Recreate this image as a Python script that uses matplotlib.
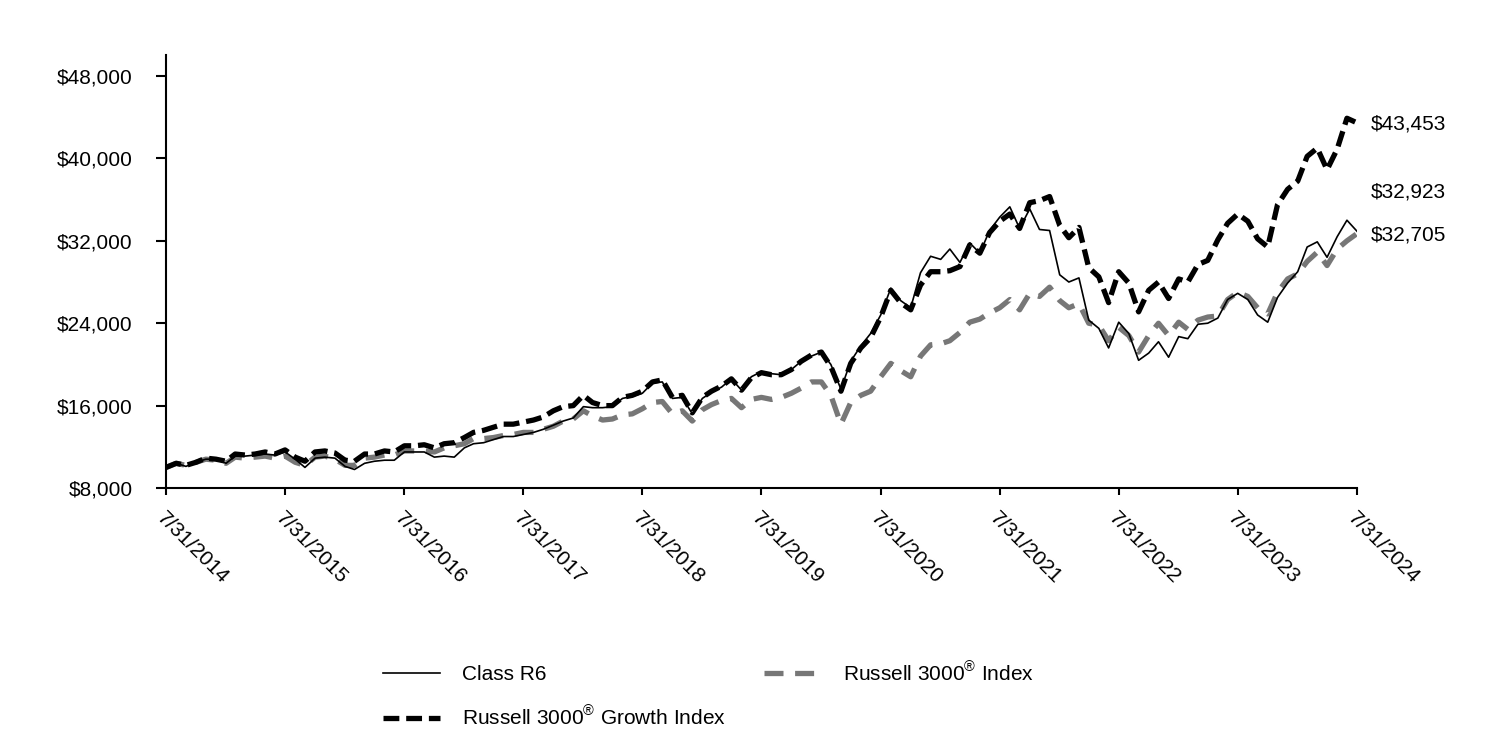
import matplotlib
matplotlib.use("Agg")
import matplotlib.pyplot as plt
import pandas as pd

plt.rcParams['font.family'] = ['Liberation Sans', 'DejaVu Sans']
plt.rcParams['mathtext.fontset'] = 'custom'
plt.rcParams['mathtext.rm'] = 'Liberation Sans'

# ---------------- data ----------------
start_date = '2014-07-31'
end_date = '2024-07-31'

tick_labels = ['7/31/2014', '7/31/2015', '7/31/2016', '7/31/2017', '7/31/2018',
               '7/31/2019', '7/31/2020', '7/31/2021', '7/31/2022', '7/31/2023',
               '7/31/2024']

y_ticks = [8000, 16000, 24000, 32000, 40000, 48000]

class_r6 = [
    10000, 10400, 10100, 10500, 10800, 10800, 10400, 11100, 11100, 11200, 11300, 11200,
    11500, 10800, 10000, 10900, 11000, 10900, 10100, 9800, 10400, 10600, 10700, 10700,
    11500, 11500, 11500, 11000, 11100, 11000, 11900, 12300, 12400, 12700, 13000, 13000,
    13200, 13400, 13700, 14100, 14500, 14800, 15900, 15800, 15800, 15900, 16700, 16900,
    17200, 18200, 18300, 16700, 16800, 15200, 16700, 17300, 17800, 18600, 17500, 18800,
    19300, 19100, 19000, 19500, 20300, 20800, 21200, 20000, 17600, 20300, 21800, 23000,
    24800, 27400, 26200, 25500, 28900, 30500, 30200, 31200, 29900, 31800, 30800, 33000,
    34300, 35300, 33200, 35100, 33100, 33000, 28700, 28000, 28400, 24300, 23500, 21600,
    24100, 23000, 20400, 21100, 22200, 20700, 22700, 22500, 23900, 24000, 24500, 26300,
    26900, 26300, 24800, 24100, 26500, 27900, 29000, 31400, 31900, 30400, 32400, 34000,
    32923]

growth_idx = [
    10000, 10400, 10200, 10500, 10900, 10800, 10600, 11300, 11200, 11300, 11500, 11300,
    11700, 11000, 10600, 11500, 11600, 11400, 10700, 10600, 11300, 11300, 11600, 11500,
    12100, 12100, 12200, 11900, 12300, 12400, 12900, 13400, 13600, 13900, 14200, 14200,
    14400, 14600, 14900, 15500, 15900, 16000, 17000, 16300, 16000, 16000, 16800, 17000,
    17400, 18300, 18500, 16800, 17000, 15300, 16800, 17400, 17900, 18600, 17500, 18700,
    19200, 19000, 19000, 19500, 20300, 20900, 21200, 19800, 17400, 20100, 21600, 22600,
    24600, 27200, 26000, 25300, 27700, 29000, 29000, 29100, 29500, 31600, 30800, 32800,
    33900, 34600, 33200, 35700, 35900, 36300, 33500, 32300, 33300, 29400, 28500, 26000,
    29000, 27900, 25100, 27200, 28000, 26400, 28300, 28000, 29700, 30100, 32100, 33700,
    34600, 33900, 32200, 31400, 35500, 37000, 37800, 40200, 41000, 38900, 40900, 43900,
    43453]

russell_3000 = [
    10000, 10400, 10200, 10500, 10800, 10700, 10400, 11000, 10900, 11000, 11100, 10900,
    11100, 10500, 10200, 11000, 11100, 10800, 10200, 10200, 10900, 11000, 11200, 11200,
    11600, 11600, 11600, 11500, 11900, 12100, 12300, 12800, 12800, 12900, 13100, 13200,
    13400, 13400, 13700, 14000, 14500, 14700, 15500, 15000, 14600, 14700, 15100, 15200,
    15700, 16300, 16400, 15200, 15500, 14500, 15600, 16100, 16500, 16700, 15800, 16600,
    16800, 16600, 16800, 17200, 17700, 18300, 18300, 17000, 14200, 16300, 17000, 17400,
    18800, 20100, 19400, 18800, 20800, 21900, 22000, 22300, 23100, 24100, 24400, 25000,
    25500, 26300, 25300, 26900, 26600, 27500, 26200, 25500, 25900, 24000, 23800, 22300,
    23600, 22800, 21200, 22800, 24000, 22800, 24100, 23400, 24300, 24600, 24700, 26300,
    27000, 26600, 25500, 24900, 27000, 28300, 28800, 30000, 30900, 29600, 31200, 32000,
    32705]

series_names = ['Class R6', 'Russell 3000$^{\\circledR}$ Growth Index',
                'Russell 3000$^{\\circledR}$ Index']

# ---------------- figure ----------------
dates = pd.date_range(start_date, end_date, freq=pd.offsets.MonthEnd())
tick_dates = dates[::12]

FS = 15
fig = plt.figure(figsize=(15, 7.32), dpi=100)
ax = fig.add_axes([0.1107, 0.3333, 0.794, 0.591])

gray = '#777777'
l_r6, = ax.plot(dates, class_r6, color='black', lw=1.2, label=series_names[0], zorder=4)
l_gr, = ax.plot(dates, growth_idx, color='black', lw=3.8, linestyle=(0, (3.0, 1.3)),
                dash_capstyle='butt', label=series_names[1], zorder=3)
l_r3, = ax.plot(dates, russell_3000, color=gray, lw=3.8, linestyle=(0, (3.6, 2.2)),
                dash_capstyle='butt', label=series_names[2], zorder=2)

ax.set_xlim(dates[0], dates[-1])
ax.set_ylim(8000, 50000)
ax.set_yticks(y_ticks)
ax.set_yticklabels([f'${v:,.0f}' for v in y_ticks], fontsize=FS)
ax.set_xticks(tick_dates)
ax.set_xticklabels(tick_labels, fontsize=FS, rotation=-45, ha='left', va='top',
                   rotation_mode='anchor')

for s in ['top', 'right']:
    ax.spines[s].set_visible(False)
for s in ['left', 'bottom']:
    ax.spines[s].set_linewidth(1.5)
ax.tick_params(axis='y', length=7, width=1.5, pad=17)
ax.tick_params(axis='x', length=5, width=1.5, pad=10)

# end labels
ax.annotate(f'${growth_idx[-1]:,.0f}', xy=(dates[-1], growth_idx[-1]),
            xytext=(10, -1), textcoords='offset points', fontsize=FS,
            va='center', ha='left', annotation_clip=False)
ax.annotate(f'${class_r6[-1]:,.0f}', xy=(dates[-1], class_r6[-1]),
            xytext=(10, 28.5), textcoords='offset points', fontsize=FS,
            va='center', ha='left', annotation_clip=False)
ax.annotate(f'${russell_3000[-1]:,.0f}', xy=(dates[-1], russell_3000[-1]),
            xytext=(10, -1), textcoords='offset points', fontsize=FS,
            va='center', ha='left', annotation_clip=False)

fig.legend(handles=[l_r6, l_gr, l_r3], loc='upper left', bbox_to_anchor=(0.2553, 0.098),
           ncol=2, frameon=False, fontsize=FS, handlelength=2.74, handletextpad=1.06,
           columnspacing=1.8, labelspacing=1.0, borderaxespad=0, borderpad=0)

fig.savefig('out.png', dpi=100)
